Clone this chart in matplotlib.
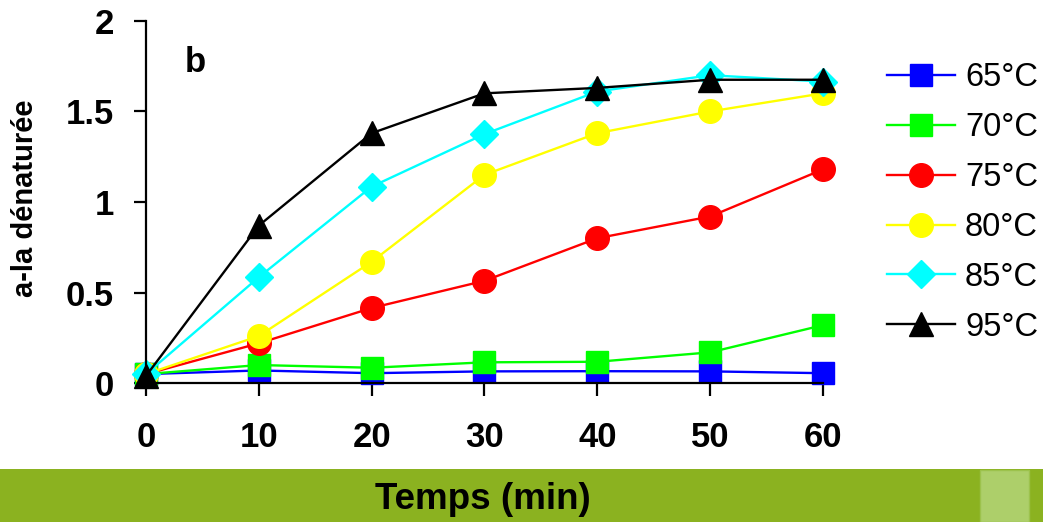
import matplotlib
matplotlib.use("Agg")
import matplotlib.pyplot as plt
from matplotlib.patches import Rectangle

plt.rcParams["font.family"] = ["Liberation Sans", "DejaVu Sans"]

# --- data ---
temps_min = [0, 10, 20, 30, 40, 50, 60]
labels = ["65°C", "70°C", "75°C", "80°C", "85°C", "95°C"]
y65 = [0.05, 0.07, 0.055, 0.065, 0.066, 0.065, 0.055]
y70 = [0.05, 0.10, 0.085, 0.115, 0.118, 0.17, 0.32]
y75 = [0.05, 0.22, 0.415, 0.565, 0.80, 0.92, 1.18]
y80 = [0.05, 0.26, 0.67, 1.15, 1.38, 1.50, 1.60]
y85 = [0.05, 0.585, 1.085, 1.375, 1.61, 1.70, 1.665]
y95 = [0.04, 0.87, 1.38, 1.60, 1.63, 1.675, 1.675]

series = [y65, y70, y75, y80, y85, y95]
colors = ["#0000FF", "#00FF00", "#FF0000", "#FFFF00", "#00FFFF", "#000000"]
markers = ["s", "s", "o", "o", "D", "^"]
msizes = [16, 16, 17, 17, 14, 17]

fig = plt.figure(figsize=(10.43, 5.22), dpi=100)
ax = fig.add_axes([0.140, 0.266, 0.649, 0.694])

for ys, c, m, ms, lab in zip(series, colors, markers, msizes, labels):
    ax.plot(temps_min, ys, color=c, marker=m, markersize=ms, markeredgecolor=c,
            linewidth=1.7, label=lab, clip_on=False)

ax.set_xlim(0, 60)
ax.set_ylim(0, 2)
ax.set_xticks([0, 10, 20, 30, 40, 50, 60])
ax.set_yticks([0, 0.5, 1, 1.5, 2])
ax.set_yticklabels(["0", "0.5", "1", "1.5", "2"])
for s in ["top", "right"]:
    ax.spines[s].set_visible(False)
for s in ["left", "bottom"]:
    ax.spines[s].set_linewidth(1.6)
ax.tick_params(axis="both", direction="out", length=9, width=1.6, labelsize=25)
ax.tick_params(axis="x", pad=18)
ax.tick_params(axis="y", pad=14)
for t in ax.get_xticklabels() + ax.get_yticklabels():
    t.set_fontweight("bold")

ax.set_ylabel("a-la dénaturée", fontsize=21, fontweight="bold")
ax.yaxis.set_label_coords(-0.158, 0.51)

ax.text(3.4, 1.72, "b", fontsize=25, fontweight="bold")

leg = ax.legend(loc="upper left", bbox_to_anchor=(1.075, 0.922), frameon=False,
                fontsize=23.5, handlelength=2.1, handletextpad=0.3,
                labelspacing=0.58, borderaxespad=0)

# green band at the bottom with the x label
fig.patches.append(Rectangle((0, 0), 1, 0.1015, transform=fig.transFigure,
                             facecolor="#8BB220", edgecolor="none", zorder=0))
fig.patches.append(Rectangle((0.9396, 0), 0.047, 0.0996, transform=fig.transFigure,
                             facecolor="#ADCF6A", edgecolor="#9CC24C", linewidth=1, zorder=1))
fig.text(0.463, 0.044, "Temps (min)", fontsize=26.5, fontweight="bold",
         ha="center", va="center")

fig.savefig("out.png", dpi=100)
